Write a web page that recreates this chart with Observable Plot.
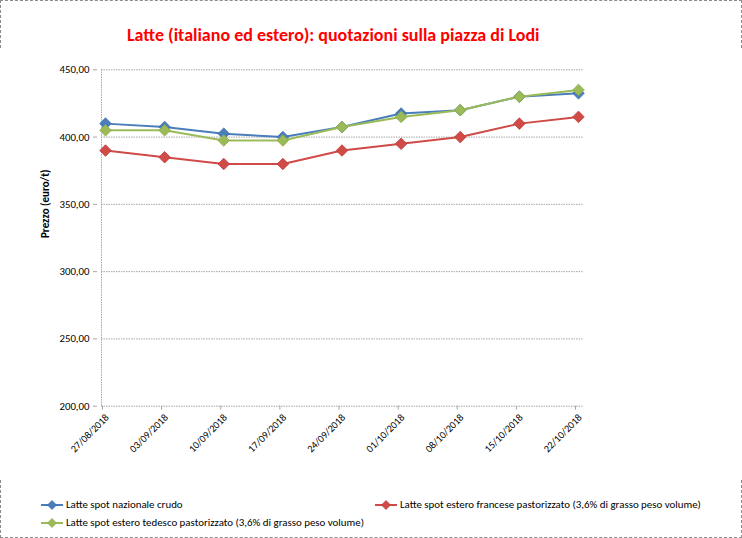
<!DOCTYPE html>
<html>
<head>
<meta charset="utf-8">
<script src="https://cdn.jsdelivr.net/npm/d3@7"></script>
<script src="https://cdn.jsdelivr.net/npm/@observablehq/plot@0.6"></script>
<style>
  body { margin: 0; background: #fff; }
  #wrap { position: relative; width: 742px; height: 538px; overflow: hidden; outline: 1px dashed #8c8c8c; outline-offset: -1px; font-family: Carlito, Lato, sans-serif; background:#fff; }
  #title { position: absolute; left: 127px; top: 24px; font-size: 18px; font-weight: bold; color: #ff0000; white-space: nowrap; }
  #chart { position: absolute; left: 0; top: 50px; }
  .leg { position: absolute; display: flex; align-items: center; font-size: 10.9px; color: #000; white-space: nowrap; }
  .leg svg { margin-right: 2px; }
</style>
</head>
<body>
<div id="wrap">
  <div id="title"></div>
  <div id="chart"></div>
  <div id="legend"></div>
</div>
<script>
const titleText = "Latte (italiano ed estero): quotazioni sulla piazza di Lodi";
const yLabel = "Prezzo (euro/t)";
const dates = ["27/08/2018","03/09/2018","10/09/2018","17/09/2018","24/09/2018","01/10/2018","08/10/2018","15/10/2018","22/10/2018"];
const seriesNames = [
  "Latte spot nazionale crudo",
  "Latte spot estero francese pastorizzato (3,6% di grasso peso volume)",
  "Latte spot estero tedesco pastorizzato (3,6% di grasso peso volume)"
];
const nazionale = [410, 407.5, 402.5, 400, 407.5, 417.5, 420, 430, 432.5];
const francese  = [390, 385, 380, 380, 390, 395, 400, 410, 415];
const tedesco   = [405, 405, 397.5, 397.5, 407.5, 415, 420, 430, 435];
const yTicks = [200, 250, 300, 350, 400, 450];
const colors = ["#4a7ebb", "#d04a47", "#9bbb59"];
const strokes = ["#3a6db0", "#be3b38", "#8aab48"];

const parseDate = d3.utcParse("%d/%m/%Y");
const fmtY = v => d3.format(".2f")(v).replace(".", ",");

const allSeries = [nazionale, francese, tedesco];
const data = [];
allSeries.forEach((vals, si) => {
  vals.forEach((v, i) => data.push({series: seriesNames[si], date: parseDate(dates[i]), value: v}));
});

document.getElementById("title").textContent = titleText;

const W = 742, H = 430;
const chart = Plot.plot({
  width: W,
  height: H,
  marginLeft: 101,
  marginRight: 159,
  marginTop: 19.3,
  marginBottom: 74.3,
  style: {fontFamily: "Carlito, Lato, sans-serif", fontSize: "10.8px", color: "#000", background: "#fff"},
  x: {type: "utc", domain: [parseDate(dates[0]), parseDate(dates[dates.length - 1])], range: [105, 578]},
  y: {domain: [200, 450]},
  color: {domain: seriesNames, range: colors},
  marks: [
    Plot.ruleY(yTicks, {stroke: "#a6a6a6", strokeDasharray: "1.5,1", strokeWidth: 1}),
    Plot.ruleX([parseDate(dates[0])], {x: () => parseDate(dates[0]), y1: 200, y2: 450, dx: -4, stroke: "#a6a6a6", strokeDasharray: "1.5,1"}),
    Plot.axisY({ticks: yTicks, tickFormat: fmtY, tickSize: 4, tickPadding: 4, label: null, stroke: "#a6a6a6", dx: -4}),
    Plot.axisX({ticks: dates.map(parseDate), tickSize: 4, tickFormat: () => "", label: null, stroke: "#a6a6a6", dx: -3}),
    Plot.text(dates, {x: d => parseDate(d), frameAnchor: "bottom", text: d => d, rotate: -45, textAnchor: "end", dx: 4, dy: 12, fontSize: 10.2}),
    ...allSeries.map((vals, si) => [
      Plot.line(data.filter(d => d.series === seriesNames[si]), {x: "date", y: "value", stroke: colors[si], strokeWidth: 2}),
      Plot.dot(data.filter(d => d.series === seriesNames[si]), {x: "date", y: "value", symbol: "diamond2", r: 5.2, fill: colors[si], stroke: strokes[si], strokeWidth: 0.8})
    ]).flat(),
    Plot.text([yLabel], {frameAnchor: "left", dx: -56, rotate: -90, fontWeight: "bold", fontSize: 11, text: d => d})
  ]
});
document.getElementById("chart").appendChild(chart);

// legend
const legend = document.getElementById("legend");
const legPos = [[40, 505], [374, 505], [40, 523]];
seriesNames.forEach((name, si) => {
  const item = document.createElement("div");
  item.className = "leg";
  item.style.left = legPos[si][0] + "px";
  item.style.top = (legPos[si][1] - 7) + "px";
  const sw = d3.create("svg").attr("width", 24).attr("height", 12);
  sw.append("line").attr("x1", 1).attr("x2", 23).attr("y1", 6).attr("y2", 6).attr("stroke", colors[si]).attr("stroke-width", 2);
  sw.append("path").attr("d", "M12,1.5L16.5,6L12,10.5L7.5,6Z").attr("fill", colors[si]).attr("stroke", strokes[si]).attr("stroke-width", 0.7);
  item.appendChild(sw.node());
  const span = document.createElement("span");
  span.textContent = name;
  item.appendChild(span);
  legend.appendChild(item);
});
</script>
</body>
</html>
